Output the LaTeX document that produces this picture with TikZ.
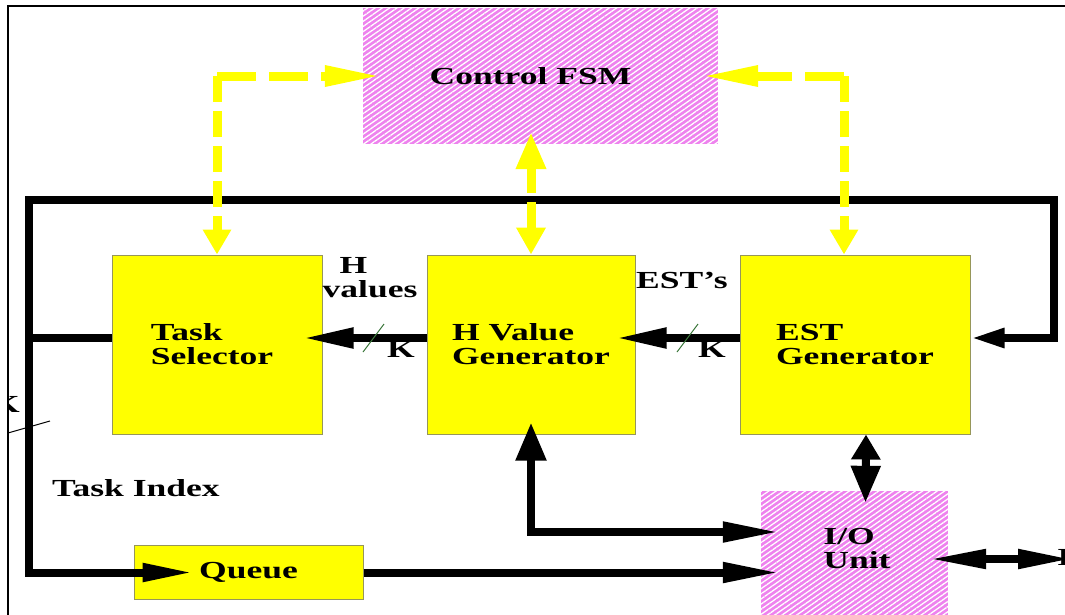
\documentclass[tikz,border=0pt]{standalone}
\usepackage{fontspec}
\setmainfont{Liberation Serif}[FakeStretch=1.45]
\usetikzlibrary{arrows.meta,patterns.meta}
\definecolor{hatchpink}{RGB}{238,130,238}
\definecolor{boxyellow}{RGB}{255,255,0}
\definecolor{boxedge}{RGB}{150,150,90}
\definecolor{ctlyellow}{RGB}{255,255,0}
\definecolor{slashgreen}{RGB}{60,120,60}
\tikzset{
  lbl/.style={font=\fontsize{24.5}{24}\selectfont\bfseries, inner sep=0pt},
  ybox/.style={lbl, draw=boxedge, line width=1pt, fill=boxyellow, align=left},
  hbox/.style={lbl, fill=hatchpink, align=left,
    postaction={pattern={Lines[angle=35,distance=4.2pt,line width=1.3pt]}, pattern color=white}},
  bus/.style={line width=8pt, draw=black},
  ctl/.style={line width=9pt, draw=ctlyellow},
  dashH/.style={dash pattern=on 39pt off 13pt},
  dashV/.style={dash pattern=on 26pt off 9pt},
}
\begin{document}
\begin{tikzpicture}[x=1pt,y=-1pt]
\useasboundingbox (0,0) rectangle (1065,614);
\fill[white] (0,0) rectangle (1065,614);
\begin{scope}
\clip (8,6) rectangle (1075,620);
% hatched blocks
\node[hbox, minimum width=355pt, minimum height=136pt] (fsm) at (540.5,76) {Control FSM\hspace*{20pt}};
\node[hbox, minimum width=187pt, minimum height=138pt] (io) at (854.5,560) {};
% yellow blocks
\node[ybox, minimum width=210pt, minimum height=179pt] (ts) at (217,344.5) {Task\\Selector\hspace*{10pt}};
\node[ybox, minimum width=208pt, minimum height=179pt] (hv) at (531,344.5) {H Value\\Generator};
\node[ybox, minimum width=230pt, minimum height=179pt] (est) at (855,344.5) {EST\\Generator};
\node[ybox, minimum width=229pt, minimum height=54pt] (queue) at (248.5,572.5) {Queue};
% coordinates
\coordinate (ll) at (29,338);
\coordinate (tl) at (29,200);
\coordinate (tr) at (1054,200);
\coordinate (rr) at (1054,338);
\coordinate (hvio) at (531,532);
\coordinate (ioout) at (1073,559);
\coordinate (cL) at (217,76);
\coordinate (cR) at (844,76);
\coordinate (fsmtip) at (531,132);
% black connectors
\draw[bus, -{Triangle[length=34pt,width=18pt]}] (ts.west |- ll) -- (ll) -- (tl) -- (tr) -- (rr) -- (est.east |- rr);
\draw[bus, -{Triangle[length=52pt,width=17pt]}] (ll) -- (queue.west -| ll) -- ([xshift=61pt]queue.west);
\draw[bus, -{Triangle[length=51pt,width=19pt]}] ([yshift=6.5pt]hv.west) -- ([xshift=-20pt,yshift=6.5pt]ts.east);
\draw[bus, -{Triangle[length=51pt,width=19pt]}] ([yshift=6.5pt]est.west) -- ([xshift=-20pt,yshift=6.5pt]hv.east);
\draw[bus, {Triangle[length=38pt,width=29pt]}-{Triangle[length=57pt,width=19pt]}] ([yshift=12pt]hv.south) -- (hvio) -- ([xshift=19pt,yshift=28pt]io.west);
\draw[bus, -{Triangle[length=57pt,width=19pt]}] (queue.east) -- ([xshift=19pt,yshift=-12.5pt]io.west);
\draw[bus, {Triangle[length=25pt,width=28pt]}-{Triangle[length=37pt,width=28pt]}] ([xshift=11pt]est.south) -- ([xshift=11pt,yshift=-12pt]io.north);
\draw[bus, {Triangle[length=58pt,width=18pt]}-{Triangle[length=55pt,width=18pt]}] ([xshift=-20pt,yshift=1pt]io.east) -- (ioout);
% yellow control connectors
\draw[ctl, dashH, -{Triangle[length=58pt,width=19pt]}] (cL) -- ([xshift=20pt]fsm.west);
\draw[ctl, dashV, -{Triangle[length=25pt,width=27pt]}] (cL) -- (ts.north);
\draw[ctl, dashH, -{Triangle[length=58pt,width=19pt]}] (cR) -- ([xshift=-18pt]fsm.east);
\draw[ctl, dashV, -{Triangle[length=25pt,width=27pt]}] (cR) -- (est.north -| cR);
\draw[ctl, dashV, {Triangle[length=37pt,width=28pt]}-{Triangle[length=27pt,width=28pt]}] (fsmtip) -- (hv.north);
% bus width slashes
\draw[slashgreen, line width=1pt] (363,352) -- (384,324);
\draw[slashgreen, line width=1pt] (677,352) -- (698,324);
\draw[black, line width=1pt] (8,433) -- (50,421);
% labels
\node[lbl, align=left] (iotxt) at (857,548) {I/O\\Unit};
\node[lbl, anchor=base west] (kA) at (387,357) {K};
\node[lbl, anchor=base west] (kB) at (698,357) {K};
\node[lbl, anchor=base west] (ests) at (636,288) {EST’s};
\node[lbl, align=left] (hvals) at (370,278) {\hspace*{17pt}H\\values};
\node[lbl, anchor=base west] (tidx) at (52,496) {Task Index};
\node[lbl, anchor=base east] (kL) at (20,412) {K};
\node[lbl, anchor=base west] (iL) at (1057,565) {I};
\end{scope}
% frame
\draw[black, line width=1.5pt] (8,620) -- (8,6) -- (1070,6);
\end{tikzpicture}
\end{document}
